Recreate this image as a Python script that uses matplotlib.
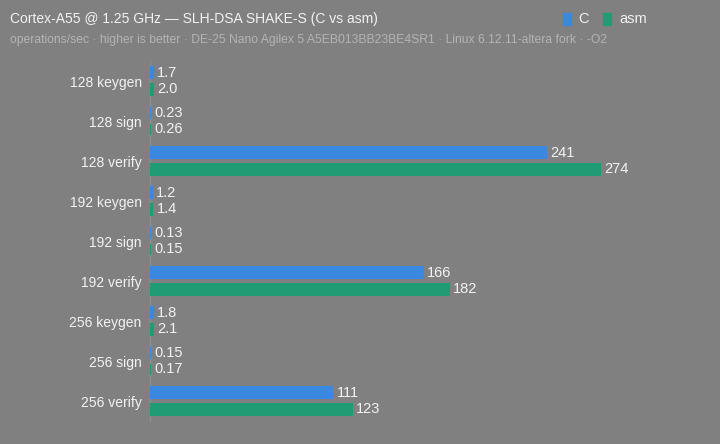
import matplotlib.pyplot as plt
import numpy as np

plt.rcParams['font.family'] = ['Liberation Sans', 'DejaVu Sans']

# benchmark results (ops/sec)
categories = ['128 keygen', '128 sign', '128 verify',
              '192 keygen', '192 sign', '192 verify',
              '256 keygen', '256 sign', '256 verify']
c_vals = [1.7, 0.23, 241, 1.2, 0.13, 166, 1.8, 0.15, 111]
asm_vals = [2.0, 0.26, 274, 1.4, 0.15, 182, 2.1, 0.17, 123]
c_labels = ['1.7', '0.23', '241', '1.2', '0.13', '166', '1.8', '0.15', '111']
asm_labels = ['2.0', '0.26', '274', '1.4', '0.15', '182', '2.1', '0.17', '123']

bg = '#808080'
blue = '#3a88e0'
green = '#1f9c74'
txt = '#f2f2f2'

fig = plt.figure(figsize=(7.2, 4.44), dpi=100, facecolor=bg)
ax = fig.add_axes([150 / 720, 1 - 421 / 444, 550 / 720, 360 / 444])
ax.set_facecolor(bg)

y = np.arange(len(categories))
off = 0.21
h = 0.26
# edge with round joins -> slightly rounded corners, keeps tiny bars visible
ax.barh(y - off, c_vals, height=h, color=blue, edgecolor=blue,
        linewidth=1.5, joinstyle='round', zorder=3)
ax.barh(y + off, asm_vals, height=h, color=green, edgecolor=green,
        linewidth=1.5, joinstyle='round', zorder=3)

for i in range(len(categories)):
    ax.annotate(c_labels[i], (c_vals[i], y[i] - off), xytext=(3, 0),
                textcoords='offset points', va='center', ha='left',
                color=txt, fontsize=10.5)
    ax.annotate(asm_labels[i], (asm_vals[i], y[i] + off), xytext=(3, 0),
                textcoords='offset points', va='center', ha='left',
                color=txt, fontsize=10.5)

ax.set_xlim(0, 335)
ax.set_ylim(8.5, -0.5)
ax.set_yticks(y)
ax.set_yticklabels(categories, color=txt, fontsize=10)
ax.tick_params(axis='y', length=0, pad=6)
ax.set_xticks([])
for s in ['top', 'right', 'bottom']:
    ax.spines[s].set_visible(False)
ax.spines['left'].set_color('#8e8e8e')
ax.spines['left'].set_linewidth(1)
ax.spines['left'].set_zorder(1)

fig.text(10 / 720, 1 - 19 / 444, 'Cortex-A55 @ 1.25 GHz — SLH-DSA SHAKE-S (C vs asm)',
         color=txt, fontsize=10, va='center', ha='left')
fig.text(10 / 720, 1 - 40 / 444,
         'operations/sec · higher is better · DE-25 Nano Agilex 5 A5EB013BB23BE4SR1 · Linux 6.12.11-altera fork · -O2',
         color='#b4b4b4', fontsize=8.75, va='center', ha='left')

# legend
fig.patches.append(plt.Rectangle((563 / 720, 1 - 25 / 444), 8 / 720, 12 / 444,
                                 transform=fig.transFigure, color=blue))
fig.text(578 / 720, 1 - 19 / 444, 'C', color=txt, fontsize=10.5, va='center', ha='left')
fig.patches.append(plt.Rectangle((603 / 720, 1 - 25 / 444), 8 / 720, 12 / 444,
                                 transform=fig.transFigure, color=green))
fig.text(619 / 720, 1 - 19 / 444, 'asm', color=txt, fontsize=10.5, va='center', ha='left')

fig.savefig('out.png', dpi=100, facecolor=bg)
